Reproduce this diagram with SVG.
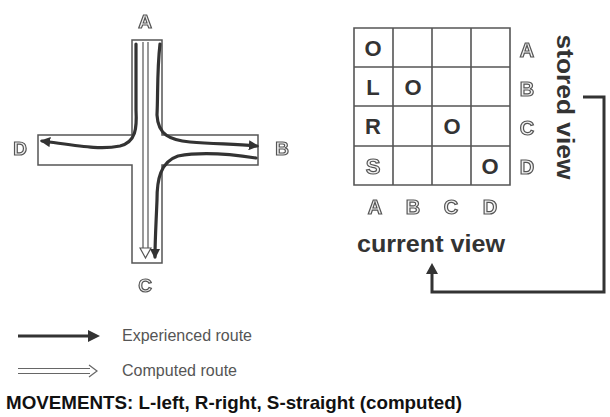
<svg xmlns="http://www.w3.org/2000/svg" width="610" height="417" viewBox="0 0 610 417">
<style>
.ol{font-family:"Liberation Sans",Arial,sans-serif;font-weight:bold;fill:#f2f2f2;stroke:#555;stroke-width:1.2;text-anchor:middle}
.bd{font-family:"Liberation Sans",Arial,sans-serif;font-weight:bold;fill:#333;text-anchor:middle}
.exp{fill:none;stroke:#333;stroke-width:3.2;stroke-linecap:round}
.road{fill:#fff;stroke:#555;stroke-width:1.5}
.grid{fill:none;stroke:#555;stroke-width:1.6}
.lg{font-family:"Liberation Sans",Arial,sans-serif;fill:#555;font-size:16px}
</style>
<defs>
<marker id="ah" viewBox="0 0 10 10" refX="8" refY="5" markerWidth="3.2" markerHeight="3.2" orient="auto"><path d="M0,0 L10,5 L0,10 z" fill="#333"/></marker>
<filter id="gs" x="0" y="0" width="1" height="1"><feOffset dx="0" dy="0"/></filter>
</defs>
<rect width="610" height="417" fill="#fff"/>
<g id="intersection">
<path class="road" d="M132,40 H162 V135 H258 V165 H162 V263 H132 V165 H38 V135 H132 Z"/>
<g filter="url(#gs)">
<text class="ol" x="145" y="28" font-size="19">A</text>
<text class="ol" x="145" y="292" font-size="19">C</text>
<text class="ol" x="20" y="155" font-size="19">D</text>
<text class="ol" x="282" y="155" font-size="19">B</text>
</g>
</g>
<g id="connectors">
<path d="M143,42 V250 M148,42 V250" fill="none" stroke="#555" stroke-width="1.2"/>
<path d="M140,248 L145.5,258 L151,248 Z" fill="#fff" stroke="#555" stroke-width="1.2"/>
<path class="exp" marker-end="url(#ah)" d="M136,44 V110 C137,128 136,142 120,146 C100,150 80,146 42,141"/>
<path class="exp" marker-end="url(#ah)" d="M160,44 C157,70 158,95 157,115 C158,135 170,140 190,142 C215,144 235,144 257,146"/>
<path class="exp" marker-end="url(#ah)" d="M256,158 C230,154 200,152 178,156 C160,162 157,180 157,200 C156,225 155,240 155,257"/>
</g>
<g id="matrix">
<path class="grid" d="M354,28 H510 V185 H354 Z M393,28 V185 M432,28 V185 M471,28 V185 M354,67 H510 M354,106 H510 M354,146 H510"/>
<text class="bd" x="373" y="56" font-size="22">O</text>
<text class="bd" x="373" y="95" font-size="22">L</text>
<text class="bd" x="413" y="95" font-size="22">O</text>
<text class="bd" x="373" y="134" font-size="22">R</text>
<text class="bd" x="452" y="134" font-size="22">O</text>
<text class="bd" x="490" y="174" font-size="22">O</text>
<g filter="url(#gs)">
<text class="ol" x="373" y="174" font-size="22">S</text>
<text class="ol" x="527" y="57" font-size="20">A</text>
<text class="ol" x="527" y="96" font-size="20">B</text>
<text class="ol" x="527" y="135" font-size="20">C</text>
<text class="ol" x="527" y="174" font-size="20">D</text>
<text class="ol" x="375" y="214" font-size="20">A</text>
<text class="ol" x="413" y="214" font-size="20">B</text>
<text class="ol" x="451" y="214" font-size="20">C</text>
<text class="ol" x="490" y="214" font-size="20">D</text>
</g>
<text class="bd" x="557" y="107" font-size="23" transform="rotate(90 557 107)" textLength="145" lengthAdjust="spacingAndGlyphs">stored view</text>
<text class="bd" x="431" y="252" font-size="23" textLength="148" lengthAdjust="spacingAndGlyphs">current view</text>
</g>
<g id="feedback">
<path d="M583,97 H604 V292 H432 V272" fill="none" stroke="#333" stroke-width="3"/>
<path d="M426,274 L432,263 L438,274 Z" fill="#333"/>
</g>
<g id="legend">
<path d="M18,336 H90" stroke="#333" stroke-width="3"/>
<path d="M88,330 L100,336 L88,342 Z" fill="#333"/>
<path d="M18,368.5 H90 M18,373.5 H90" stroke="#666" stroke-width="1.2"/>
<path d="M89,365 L97,371 L89,377" fill="none" stroke="#666" stroke-width="1.2"/>
<text class="lg" x="122" y="341" textLength="130" lengthAdjust="spacingAndGlyphs">Experienced route</text>
<text class="lg" x="122" y="376" textLength="115" lengthAdjust="spacingAndGlyphs">Computed route</text>
<text x="6" y="409" font-family="Liberation Sans,Arial,sans-serif" font-weight="bold" font-size="19" fill="#111" textLength="456" lengthAdjust="spacingAndGlyphs">MOVEMENTS: L-left, R-right, S-straight (computed)</text>
</g>
</svg>
